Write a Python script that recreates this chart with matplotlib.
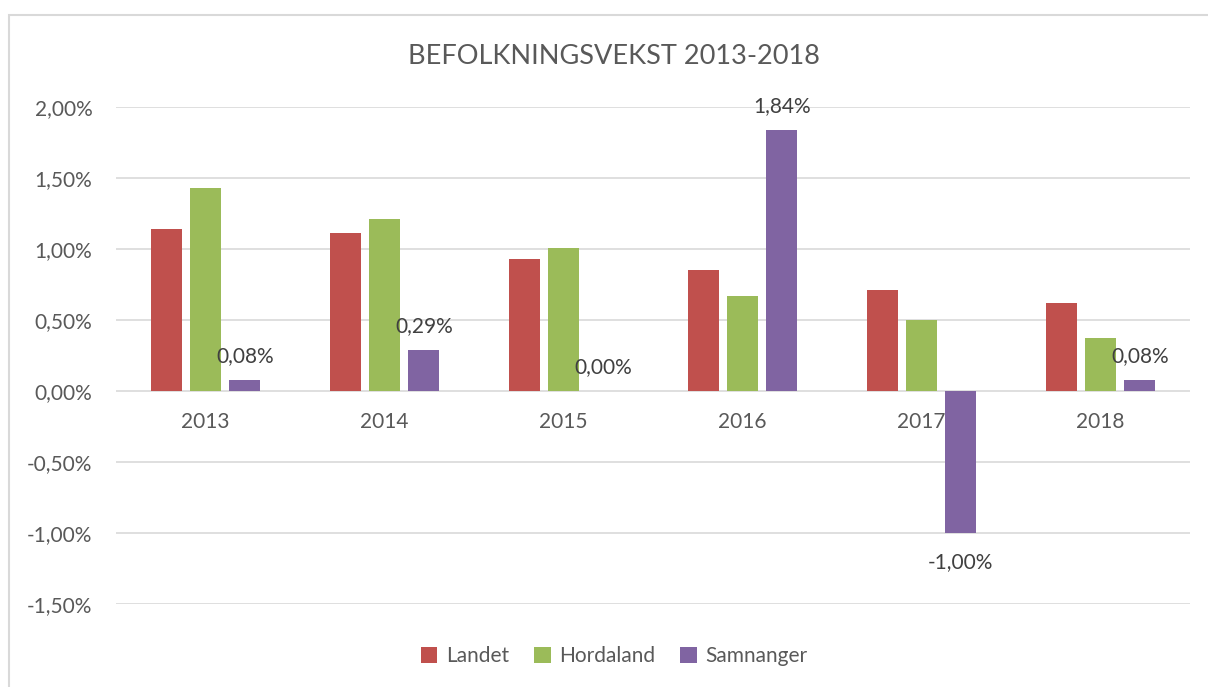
import numpy as np
import matplotlib.pyplot as plt
from matplotlib.patches import Rectangle
from matplotlib.ticker import FuncFormatter

years = ["2013", "2014", "2015", "2016", "2017", "2018"]
landet = [1.14, 1.11, 0.93, 0.85, 0.71, 0.62]
hordaland = [1.43, 1.21, 1.01, 0.67, 0.50, 0.37]
samnanger = [0.08, 0.29, 0.00, 1.84, -1.00, 0.08]
yticks = [-1.5, -1.0, -0.5, 0.0, 0.5, 1.0, 1.5, 2.0]

plt.rcParams['font.family'] = ['Lato', 'DejaVu Sans']
text_col = '#595959'
label_col = '#404040'

fig = plt.figure(figsize=(12.08, 6.87), dpi=100)
ax = fig.add_axes([116 / 1208, 1 - 604 / 687, 1074 / 1208, 497 / 687])

# light chart border like Excel
fig.patches.append(Rectangle((9 / 1208, -0.1), 1.2, 1 - 15 / 687 + 0.1,
                             transform=fig.transFigure, fill=False,
                             edgecolor='#D9D9D9', linewidth=1.5))

x = np.arange(len(years))
w = 0.173
step = 0.22
ax.bar(x - step, landet, w, color='#C0504D', label='Landet', zorder=3)
ax.bar(x, hordaland, w, color='#9BBB59', label='Hordaland', zorder=3)
bars = ax.bar(x + step, samnanger, w, color='#8064A2', label='Samnanger', zorder=3)

for rect, v in zip(bars, samnanger):
    cx = rect.get_x() + rect.get_width() / 2
    label = f"{v:.2f}%".replace('.', ',')
    if v < 0:
        ax.annotate(label, (cx, v), xytext=(0, -14), textcoords='offset points',
                    ha='center', va='top', fontsize=15, color=label_col)
    else:
        ax.annotate(label, (cx, v), xytext=(0, 10), textcoords='offset points',
                    ha='center', va='bottom', fontsize=15, color=label_col)

ax.set_xlim(-0.5, len(years) - 0.5)
ax.set_ylim(-1.5, 2.0)
ax.set_yticks(yticks)
ax.yaxis.set_major_formatter(FuncFormatter(lambda v, p: f"{v:.2f}%".replace('.', ',')))
ax.tick_params(axis='y', length=0, labelsize=15, labelcolor=text_col, pad=17)
ax.set_xticks([])
for xi, yr in zip(x, years):
    ax.text(xi, -0.22, yr, ha='center', va='center', fontsize=15, color=text_col)

ax.grid(axis='y', color='#D9D9D9', linewidth=1.2, zorder=0)
for s in ax.spines.values():
    s.set_visible(False)

fig.text(614 / 1208, 1 - 57 / 687, "BEFOLKNINGSVEKST 2013-2018", ha='center', va='center',
         fontsize=19.5, color=text_col)

fig.legend(loc='center', bbox_to_anchor=(614 / 1208, 1 - 656 / 687), ncol=3, frameon=False,
           fontsize=15, labelcolor=text_col, handlelength=0.8, handleheight=0.8,
           handletextpad=0.4, columnspacing=1.2)

fig.savefig('out.png', dpi=100)
